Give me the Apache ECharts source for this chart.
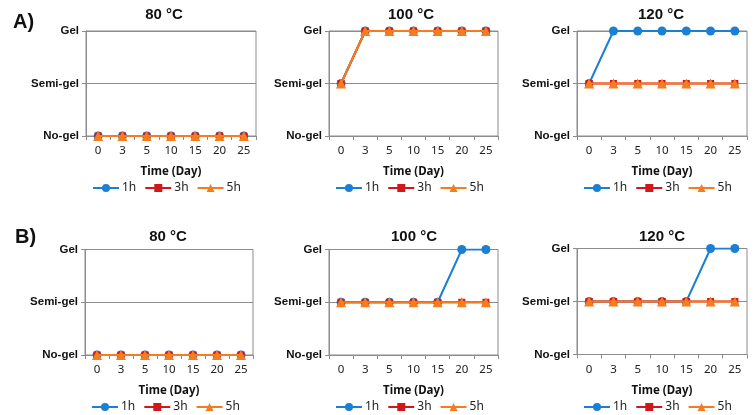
<!DOCTYPE html>
<html>
<head>
<meta charset="utf-8">
<script src="https://cdn.jsdelivr.net/npm/echarts@6/dist/echarts.min.js"></script>
<style>html,body{margin:0;padding:0;background:#fff}#c{width:756px;height:415px}</style>
</head>
<body>
<div id="c"></div>
<script>
const categories = ['0', '3', '5', '10', '15', '20', '25'];
const yLevels = ['No-gel', 'Semi-gel', 'Gel'];
const seriesNames = ['1h', '3h', '5h'];
const panelTitles = ['80 °C', '100 °C', '120 °C', '80 °C', '100 °C', '120 °C'];
const rowLabels = ['A)', 'B)'];
const xTitle = 'Time (Day)';

// 0 = No-gel, 1 = Semi-gel, 2 = Gel
const a80_1h = [0, 0, 0, 0, 0, 0, 0];
const a80_3h = [0, 0, 0, 0, 0, 0, 0];
const a80_5h = [0, 0, 0, 0, 0, 0, 0];
const a100_1h = [1, 2, 2, 2, 2, 2, 2];
const a100_3h = [1, 2, 2, 2, 2, 2, 2];
const a100_5h = [1, 2, 2, 2, 2, 2, 2];
const a120_1h = [1, 2, 2, 2, 2, 2, 2];
const a120_3h = [1, 1, 1, 1, 1, 1, 1];
const a120_5h = [1, 1, 1, 1, 1, 1, 1];
const b80_1h = [0, 0, 0, 0, 0, 0, 0];
const b80_3h = [0, 0, 0, 0, 0, 0, 0];
const b80_5h = [0, 0, 0, 0, 0, 0, 0];
const b100_1h = [1, 1, 1, 1, 1, 2, 2];
const b100_3h = [1, 1, 1, 1, 1, 1, 1];
const b100_5h = [1, 1, 1, 1, 1, 1, 1];
const b120_1h = [1, 1, 1, 1, 1, 2, 2];
const b120_3h = [1, 1, 1, 1, 1, 1, 1];
const b120_5h = [1, 1, 1, 1, 1, 1, 1];

const panelData = [
  [a80_1h, a80_3h, a80_5h],
  [a100_1h, a100_3h, a100_5h],
  [a120_1h, a120_3h, a120_5h],
  [b80_1h, b80_3h, b80_5h],
  [b100_1h, b100_3h, b100_5h],
  [b120_1h, b120_3h, b120_5h]
];

// layout
const grids = [
  {left: 86, top: 31, width: 170, height: 105},
  {left: 329, top: 31, width: 169, height: 105},
  {left: 577, top: 31, width: 170, height: 105},
  {left: 85, top: 249.5, width: 168, height: 105.5},
  {left: 329, top: 249.5, width: 169, height: 105.5},
  {left: 577, top: 248.5, width: 170, height: 106}
];
const titlePos = [[164, 15], [411, 15], [661, 15], [168, 237], [414, 237], [662, 237]];
const colors = ['#1b7fd3', '#d0181c', '#f57d1f'];
const symbols = ['circle', 'rect', 'triangle'];
const symbolSizes = [9, 7, 10];
const axisGray = '#8c8c8c';
const numFont = '"Noto Sans", sans-serif';
const boldFont = '"Liberation Sans", Arial, sans-serif';

const option = {
  animation: false,
  backgroundColor: '#fff',
  grid: [], xAxis: [], yAxis: [], series: [], legend: [], graphic: []
};

grids.forEach((g, i) => {
  option.grid.push(Object.assign({show: true, borderColor: axisGray, borderWidth: 1, containLabel: false}, g));
  option.xAxis.push({
    type: 'category', gridIndex: i, data: categories, boundaryGap: true,
    axisLine: {lineStyle: {color: axisGray, width: 1}},
    axisTick: {show: true, length: 4, lineStyle: {color: axisGray}},
    axisLabel: {color: '#222', fontFamily: numFont, fontSize: 11.5, margin: 9},
    name: xTitle, nameLocation: 'middle', nameGap: 30,
    nameTextStyle: {color: '#111', fontFamily: numFont, fontWeight: 'bold', fontSize: 11.5}
  });
  option.yAxis.push({
    type: 'value', gridIndex: i, min: 0, max: 2, interval: 1,
    axisLine: {show: true, lineStyle: {color: axisGray, width: 1}},
    axisTick: {show: true, length: 4, lineStyle: {color: axisGray}},
    splitLine: {show: true, lineStyle: {color: axisGray, width: 1}},
    axisLabel: {
      color: '#111', fontFamily: boldFont, fontWeight: 'bold', fontSize: 11.5, margin: 7,
      formatter: v => yLevels[v]
    }
  });
  panelData[i].forEach((d, s) => {
    option.series.push({
      name: seriesNames[s], type: 'line', xAxisIndex: i, yAxisIndex: i, data: d,
      symbol: symbols[s], symbolSize: symbolSizes[s], showAllSymbol: true,
      lineStyle: {color: colors[s], width: 2},
      itemStyle: {color: colors[s]},
      z: 2 + s
    });
  });
  option.legend.push({
    data: seriesNames, left: g.left + 1, top: i < 3 ? 177 : 396,
    itemWidth: 26, itemHeight: 10, itemGap: 8, selectedMode: false,
    textStyle: {color: '#222', fontFamily: numFont, fontSize: 12, padding: [0, 0, 0, -2]}
  });
  option.graphic.push({
    type: 'text', x: titlePos[i][0], y: titlePos[i][1],
    style: {
      text: panelTitles[i], textAlign: 'center', textVerticalAlign: 'middle',
      font: 'bold 15px "Liberation Sans", Arial, sans-serif', fill: '#111'
    }
  });
});

option.graphic.push({
  type: 'text', x: 13, y: 22,
  style: {text: rowLabels[0], textVerticalAlign: 'middle', font: 'bold 20px "Liberation Sans", Arial, sans-serif', fill: '#111'}
});
option.graphic.push({
  type: 'text', x: 15, y: 237,
  style: {text: rowLabels[1], textVerticalAlign: 'middle', font: 'bold 20px "Liberation Sans", Arial, sans-serif', fill: '#111'}
});

const chart = echarts.init(document.getElementById('c'), null, {renderer: 'canvas'});
chart.setOption(option);
</script>
</body>
</html>
